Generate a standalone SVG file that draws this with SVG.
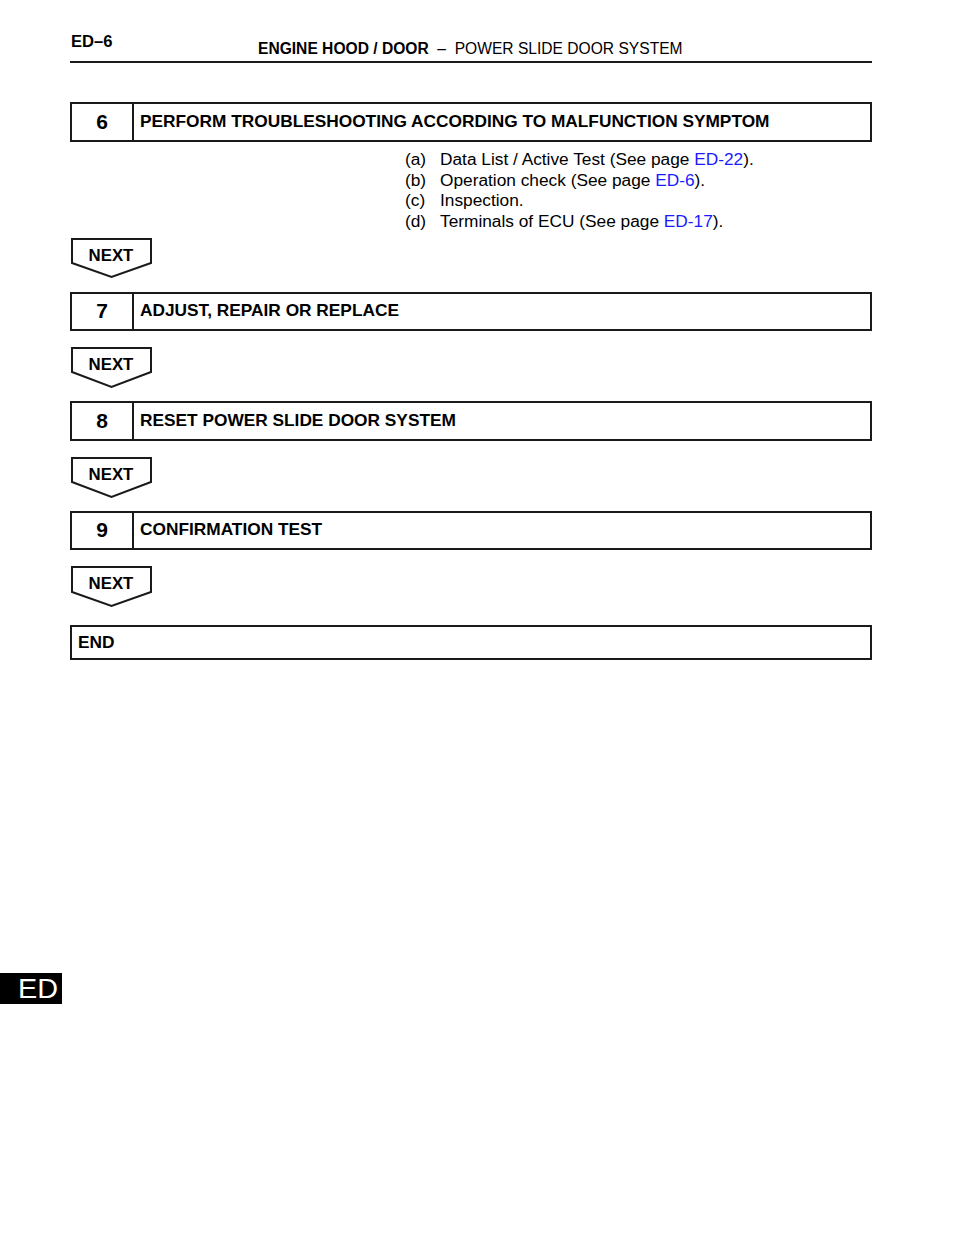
<svg xmlns="http://www.w3.org/2000/svg" width="960" height="1242" viewBox="0 0 960 1242">
<style>
.box{fill:#fff;stroke:#1a1a1a;stroke-width:2}
.next{fill:#fff;stroke:#1a1a1a;stroke-width:2;stroke-linejoin:miter}
.t{font-family:"Liberation Sans",Arial,sans-serif;fill:#000}
.h{font-size:17.3px;font-weight:bold}
.num{font-size:21px;font-weight:bold;text-anchor:middle}
.nx{font-size:16.8px;font-weight:bold;text-anchor:middle}
.li{font-size:17.3px}
.lnk{fill:#1a1aff}
</style>
<rect width="960" height="1242" fill="#fff"/>
<g id="header">
<text class="t" x="71" y="47" font-size="16.6" font-weight="bold">ED–6</text>
<text class="t" x="258" y="54" font-size="15.6" xml:space="preserve"><tspan font-weight="bold">ENGINE HOOD / DOOR</tspan>  –  POWER SLIDE DOOR SYSTEM</text>
<line x1="70" y1="62" x2="872" y2="62" stroke="#1a1a1a" stroke-width="2"/>
</g>
<g id="step6">
<rect class="box" x="71" y="103" width="800" height="38"/>
<line x1="133" y1="103" x2="133" y2="141" stroke="#1a1a1a" stroke-width="2"/>
<text class="t num" x="102" y="129">6</text>
<text class="t h" x="140" y="127">PERFORM TROUBLESHOOTING ACCORDING TO MALFUNCTION SYMPTOM</text>
</g>
<g id="notes6">
<text class="t li" x="405" y="165">(a)</text><text class="t li" x="440" y="165">Data List / Active Test (See page <tspan class="lnk">ED-22</tspan>).</text>
<text class="t li" x="405" y="186">(b)</text><text class="t li" x="440" y="186">Operation check (See page <tspan class="lnk">ED-6</tspan>).</text>
<text class="t li" x="405" y="206">(c)</text><text class="t li" x="440" y="206">Inspection.</text>
<text class="t li" x="405" y="227">(d)</text><text class="t li" x="440" y="227">Terminals of ECU (See page <tspan class="lnk">ED-17</tspan>).</text>
</g>
<g id="connectors">
<g id="next1"><path class="next" d="M72,239 H151 V263 L111.5,277 L72,263 Z"/><text class="t nx" x="111" y="261">NEXT</text></g>
<g id="next2"><path class="next" d="M72,348 H151 V372 L111.5,387 L72,372 Z"/><text class="t nx" x="111" y="370">NEXT</text></g>
<g id="next3"><path class="next" d="M72,458 H151 V482 L111.5,497 L72,482 Z"/><text class="t nx" x="111" y="480">NEXT</text></g>
<g id="next4"><path class="next" d="M72,567 H151 V592 L111.5,606 L72,592 Z"/><text class="t nx" x="111" y="589">NEXT</text></g>
</g>
<g id="step7">
<rect class="box" x="71" y="293" width="800" height="37"/>
<line x1="133" y1="293" x2="133" y2="330" stroke="#1a1a1a" stroke-width="2"/>
<text class="t num" x="102" y="318">7</text>
<text class="t h" x="140" y="316">ADJUST, REPAIR OR REPLACE</text>
</g>
<g id="step8">
<rect class="box" x="71" y="402" width="800" height="38"/>
<line x1="133" y1="402" x2="133" y2="440" stroke="#1a1a1a" stroke-width="2"/>
<text class="t num" x="102" y="428">8</text>
<text class="t h" x="140" y="426">RESET POWER SLIDE DOOR SYSTEM</text>
</g>
<g id="step9">
<rect class="box" x="71" y="512" width="800" height="37"/>
<line x1="133" y1="512" x2="133" y2="549" stroke="#1a1a1a" stroke-width="2"/>
<text class="t num" x="102" y="537">9</text>
<text class="t h" x="140" y="535">CONFIRMATION TEST</text>
</g>
<g id="end">
<rect class="box" x="71" y="626" width="800" height="33"/>
<text class="t h" x="78" y="648">END</text>
</g>
<g id="tab">
<rect x="0" y="973" width="62" height="31" fill="#000"/>
<text x="38" y="998" font-family="Liberation Sans,Arial,sans-serif" font-size="28" fill="#fff" text-anchor="middle" textLength="40" lengthAdjust="spacingAndGlyphs">ED</text>
</g>
</svg>
